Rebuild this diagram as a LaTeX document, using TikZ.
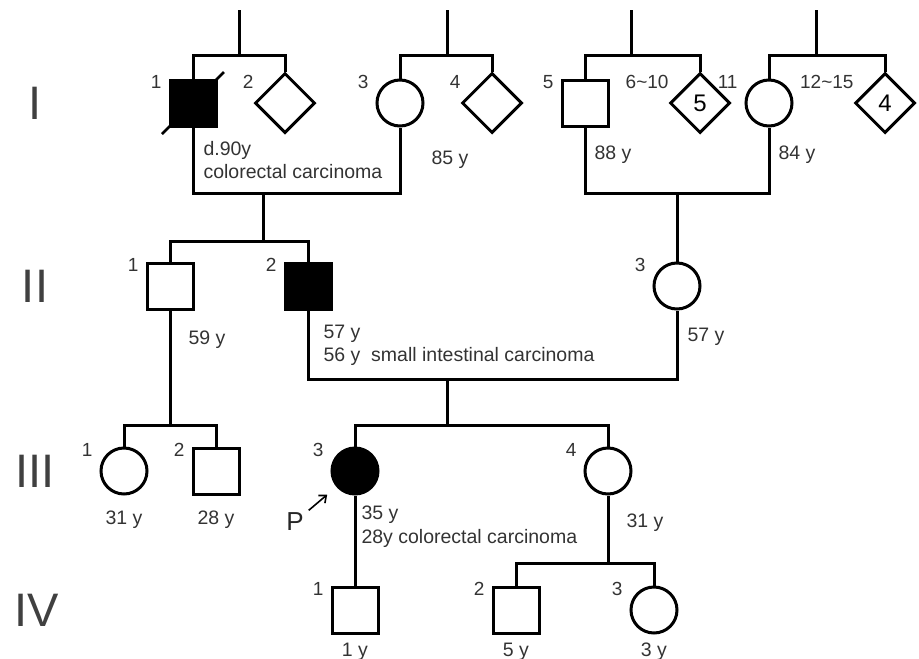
\documentclass[tikz,border=0pt]{standalone}
\usepackage{fontspec}
\setmainfont{Liberation Sans}
\usetikzlibrary{positioning}
\usetikzlibrary{calc}
\usetikzlibrary{shapes.geometric}
\usetikzlibrary{arrows.meta}

\begin{document}
\begin{tikzpicture}[x=1pt, y=-1pt, line width=3pt, >={Straight Barb[length=6pt, width=10pt]},
                    male/.style={rectangle, draw, fill=white, minimum size=46pt, inner sep=0pt},
                    female/.style={circle, draw, fill=white, minimum size=46pt, inner sep=0pt},
                    unknown/.style={diamond, draw, fill=white, minimum size=60pt, inner sep=0pt, font=\fontsize{24}{28}\selectfont},
                    affected/.style={fill=black},
                    num/.style={font=\fontsize{19}{22}\selectfont, text=black!80, inner sep=0pt, left=30pt of #1.center, yshift=21pt},
                    age/.style={font=\fontsize{19.5}{23.5}\selectfont, text=black!80, inner sep=0pt, align=left},
                    gen/.style={font=\fontsize{47}{50}\selectfont, text=black!75},
                    pmark/.style={font=\fontsize{26}{30}\selectfont, text=black!85, inner sep=2pt}]
    \useasboundingbox (0,0) rectangle (919,659);

    \path
        node[gen] (gI) at (35,103) {I}
        node[gen] (gII) at (35,286) {II}
        node[gen] (gIII) at (35,471) {III}
        node[gen] (gIV) at (37,610) {IV};

    \coordinate (f1) at (239,10);  \coordinate (s1) at (239,55);
    \coordinate (f2) at (447,10);  \coordinate (s2) at (447,55);
    \coordinate (f3) at (631,10);  \coordinate (s3) at (631,55);
    \coordinate (f4) at (816,10);  \coordinate (s4) at (816,55);
    \coordinate (m1) at (263,193); \coordinate (c1) at (263,241);
    \coordinate (m2) at (677,193);
    \coordinate (m3) at (447,379); \coordinate (c4) at (447,425);
    \coordinate (c3) at (170,425);
    \coordinate (c5) at (608,563);

    \path
        node[male, affected] (I1) at (193,103) {}
        node[unknown] (I2) at (285,103) {}
        node[female] (I3) at (400,103) {}
        node[unknown] (I4) at (492,103) {}
        node[male] (I5) at (585,103) {}
        node[unknown] (I6) at (700,103) {5}
        node[female] (I11) at (769,103) {}
        node[unknown] (I12) at (885,103) {4};
    \path
        node[male] (II1) at (170,286) {}
        node[male, affected] (II2) at (308,286) {}
        node[female] (II3) at (677,286) {};
    \path
        node[female] (III1) at (124,471) {}
        node[male] (III2) at (216,471) {}
        node[female, affected] (III3) at (355,471) {}
        node[female] (III4) at (608,471) {};
    \path
        node[male] (IV1) at (355,610) {}
        node[male] (IV2) at (516,610) {}
        node[female] (IV3) at (654,610) {};

    \draw (f1) -- (s1);  \draw (I1.north) |- (s1) -| (I2.north);
    \draw (f2) -- (s2);  \draw (I3.north) |- (s2) -| (I4.north);
    \draw (f3) -- (s3);  \draw (I5.north) |- (s3) -| (I6.north);
    \draw (f4) -- (s4);  \draw (I11.north) |- (s4) -| (I12.north);
    \draw (I1.south) |- (m1) -| (I3.south);
    \draw (I5.south) |- (m2) -| (I11.south);
    \draw (m1) -- (c1);  \draw (II1.north) |- (c1) -| (II2.north);
    \draw (m2) -- (II3.north);
    \draw (II2.south) |- (m3) -| (II3.south);
    \draw (II1.south) -- (c3);  \draw (III1.north) |- (c3) -| (III2.north);
    \draw (m3) -- (c4);  \draw (III3.north) |- (c4) -| (III4.north);
    \draw (III3.south) -- (IV1.north);
    \draw (III4.south) -- (c5);  \draw (IV2.north) |- (c5) -| (IV3.north);

    \draw[line width=2.5pt] ($(I1)+(-31,31)$) -- ($(I1)+(31,-31)$);

    \node[num=I1] {1};   \node[num=I2] {2};   \node[num=I3] {3};   \node[num=I4] {4};
    \node[num=I5] {5};   \node[num=I6] {6\textasciitilde 10};   \node[num=I11] {11};   \node[num=I12] {12\textasciitilde 15};
    \node[num=II1] {1};  \node[num=II2] {2};  \node[num=II3] {3};
    \node[num=III1] {1}; \node[num=III2] {2}; \node[num=III3] {3}; \node[num=III4] {4};
    \node[num=IV1] {1};  \node[num=IV2] {2};  \node[num=IV3] {3};

    \node[age, below right=12pt and 9pt of I1.south] (I1a) {d.90y\\colorectal carcinoma};
    \node[age, below right=22pt and 30pt of I3.south] (I3a) {85 y};
    \node[age, below right=17pt and 8pt of I5.south] (I5a) {88 y};
    \node[age, below right=17pt and 8pt of I11.south] (I11a) {84 y};
    \node[age, below right=19pt and 17pt of II1.south] (II1a) {59 y};
    \node[age, below right=13pt and 14pt of II2.south] (II2a) {57 y\\56 y\ \ small intestinal carcinoma};
    \node[age, below right=16pt and 9pt of II3.south] (II3a) {57 y};
    \node[age, below=14pt of III1.south] (III1a) {31 y};
    \node[age, below=14pt of III2.south] (III2a) {28 y};
    \node[age, below right=9pt and 5pt of III3.south] (III3a) {35 y\\28y colorectal carcinoma};
    \node[age, below right=17pt and 17pt of III4.south] (III4a) {31 y};
    \node[age, below=7pt of IV1.south] (IV1a) {1 y};
    \node[age, below=7pt of IV2.south] (IV2a) {5 y};
    \node[age, below=7pt of IV3.south] (IV3a) {3 y};

    \node[pmark] (P) at ($(III3)+(-60,51)$) {P};
    \draw[->, line width=1.6pt, shorten <=2pt, shorten >=12pt] (P) -- (III3);
\end{tikzpicture}
\end{document}
